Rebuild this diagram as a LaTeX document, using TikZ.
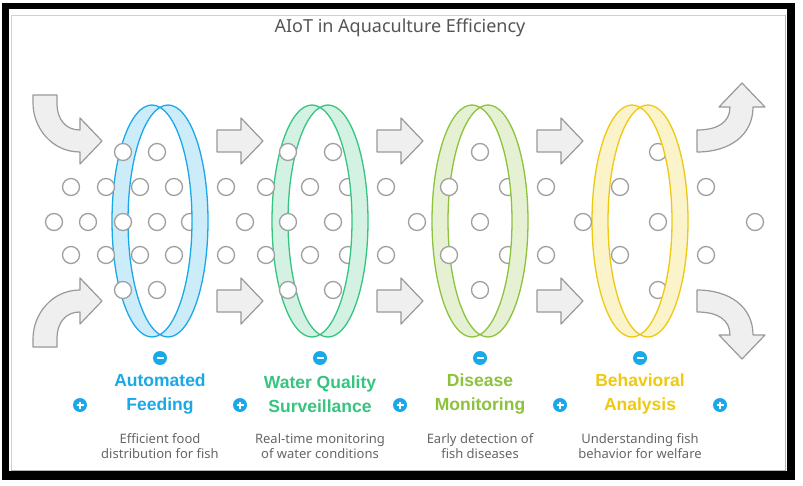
\documentclass[tikz,border=0pt]{standalone}
\usepackage{fontspec}
\setmainfont{Noto Sans}
\newfontfamily\headfont{Liberation Sans}
\usetikzlibrary{positioning}

\definecolor{afblue}{HTML}{1AA8E8}
\definecolor{wqgreen}{HTML}{36C47F}
\definecolor{dmlime}{HTML}{8CC23C}
\definecolor{bayellow}{HTML}{EEC910}
\definecolor{dotgray}{HTML}{A0A0A0}
\definecolor{arrgray}{HTML}{999999}
\definecolor{arrfill}{HTML}{EFEFEF}
\definecolor{titlegray}{HTML}{555555}
\definecolor{descgray}{HTML}{666666}
\definecolor{edgeblue}{HTML}{A8DDF5}

\tikzset{
  dot/.style={circle, draw=dotgray, fill=white, line width=1.3, minimum size=17, inner sep=0},
  blockarr/.style={draw=arrgray, fill=arrfill, line width=1.2, line join=round},
  icon/.style={circle, fill=afblue, minimum size=14, inner sep=0},
  minusicon/.style={icon, path picture={
      \draw[white, line width=1.6] ([xshift=-3.5pt]path picture bounding box.center)
        -- ([xshift=3.5pt]path picture bounding box.center);}},
  plusicon/.style={icon, path picture={
      \draw[white, line width=1.6] ([xshift=-3.5pt]path picture bounding box.center)
        -- ([xshift=3.5pt]path picture bounding box.center);
      \draw[white, line width=1.6] ([yshift=-3.5pt]path picture bounding box.center)
        -- ([yshift=3.5pt]path picture bounding box.center);}},
  headline/.style={align=center, font=\headfont\bfseries\fontsize{17.5}{23.5}\selectfont},
  descr/.style={align=center, text=descgray, font=\fontsize{13}{15.5}\selectfont},
  ringline/.style={line width=1.3},
}

\begin{document}
\begin{tikzpicture}[x=1pt, y=-1pt]
\useasboundingbox (0,0) rectangle (803,486);

% frame
\fill[black] (2,3) rectangle (795,480);
\fill[white] (9,9) rectangle (787,471);
\draw[edgeblue, line width=0.8] (11,471) -- (11,15) -- (785,15);
\draw[black!30, line width=0.8] (785,15) -- (785,470) -- (11,470);

\node[text=titlegray, font=\fontsize{18}{22}\selectfont] (title) at (400,28) {AIoT in Aquaculture Efficiency};

% rings, back half
\foreach \c/\col in {160/afblue, 320/wqgreen, 480/dmlime, 640/bayellow} {
  \fill[\col!22!white] (\c,107.34)
    arc[start angle=-78.46, end angle=-281.54, x radius=40, y radius=116]
    arc[start angle=101.54, end angle=258.46, x radius=40, y radius=116] -- cycle;
  \begin{scope}
    \clip (\c-60,90) rectangle (\c,350);
    \draw[\col, ringline] (\c-8,221) ellipse [x radius=40, y radius=116]
      (\c+8,221) ellipse [x radius=40, y radius=116];
  \end{scope}
}

% fish
\foreach \x [count=\i] in {123,157,288,333,480,658}
  \node[dot] (a\i) at (\x,152) {};
\foreach \x [count=\i] in {71,106,140,174,226,266,310,348,386,449,508,546,620,706}
  \node[dot] (b\i) at (\x,187) {};
\foreach \x [count=\i] in {54,88,123,157,190,245,288,333,417,480,583,658,755}
  \node[dot] (c\i) at (\x,222) {};
\foreach \x [count=\i] in {71,106,140,174,226,266,310,348,386,449,508,546,620,706}
  \node[dot] (d\i) at (\x,255) {};
\foreach \x [count=\i] in {123,157,288,333,480,658}
  \node[dot] (e\i) at (\x,290) {};

% rings, front half
\foreach \c/\col in {160/afblue, 320/wqgreen, 480/dmlime, 640/bayellow} {
  \fill[\col!22!white] (\c,107.34)
    arc[start angle=-101.54, end angle=101.54, x radius=40, y radius=116]
    arc[start angle=78.46, end angle=-78.46, x radius=40, y radius=116] -- cycle;
  \begin{scope}
    \clip (\c,90) rectangle (\c+60,350);
    \draw[\col, ringline] (\c-8,221) ellipse [x radius=40, y radius=116]
      (\c+8,221) ellipse [x radius=40, y radius=116];
  \end{scope}
}

% flow arrows
\foreach \m in {240,400,560} {
  \draw[blockarr] (\m-23,130) -- (\m+1,130) -- (\m+1,118) -- (\m+23,141)
    -- (\m+1,164) -- (\m+1,152) -- (\m-23,152) -- cycle;
  \draw[blockarr] (\m-23,290) -- (\m+1,290) -- (\m+1,278) -- (\m+23,301)
    -- (\m+1,324) -- (\m+1,312) -- (\m-23,312) -- cycle;
}
\draw[blockarr] (33,95) -- (57,95) -- (57,103) .. controls (57,120) and (66,130) .. (80,130)
  -- (80,118) -- (102,141) -- (80,164) -- (80,152) .. controls (52,152) and (33,128) .. (33,103) -- cycle;
\draw[blockarr] (33,347) -- (57,347) -- (57,339) .. controls (57,322) and (66,312) .. (80,312)
  -- (80,324) -- (102,301) -- (80,278) -- (80,290) .. controls (52,290) and (33,314) .. (33,339) -- cycle;
\draw[blockarr] (697,130) .. controls (718,130) and (730,122) .. (730,107) -- (719,107)
  -- (742,83) -- (765,107) -- (753,107) .. controls (753,135) and (730,152) .. (697,152) -- cycle;
\draw[blockarr] (697,312) .. controls (718,312) and (730,320) .. (730,335) -- (719,335)
  -- (742,359) -- (765,335) -- (753,335) .. controls (753,307) and (730,290) .. (697,290) -- cycle;

% stages
\node[minusicon] (m1) at (160,358) {};
\node[minusicon] (m2) at (320,358) {};
\node[minusicon] (m3) at (480,358) {};
\node[minusicon] (m4) at (640,358) {};
\node[plusicon] (p1) at (80,405) {};
\node[plusicon] (p2) at (240,405) {};
\node[plusicon] (p3) at (400,405) {};
\node[plusicon] (p4) at (560,405) {};
\node[plusicon] (p5) at (720,405) {};

\node[headline, text=afblue] (feed) at (160,394) {Automated\\Feeding};
\node[headline, text=wqgreen] (water) at (320,394) {Water Quality\\Surveillance};
\node[headline, text=dmlime] (disease) at (480,394) {Disease\\Monitoring};
\node[headline, text=bayellow] (behav) at (640,394) {Behavioral\\Analysis};

\node[descr] (feed-d) at (160,446) {Efficient food\\distribution for fish};
\node[descr] (water-d) at (320,446) {Real-time monitoring\\of water conditions};
\node[descr] (disease-d) at (480,446) {Early detection of\\fish diseases};
\node[descr] (behav-d) at (640,446) {Understanding fish\\behavior for welfare};
\end{tikzpicture}
\end{document}
